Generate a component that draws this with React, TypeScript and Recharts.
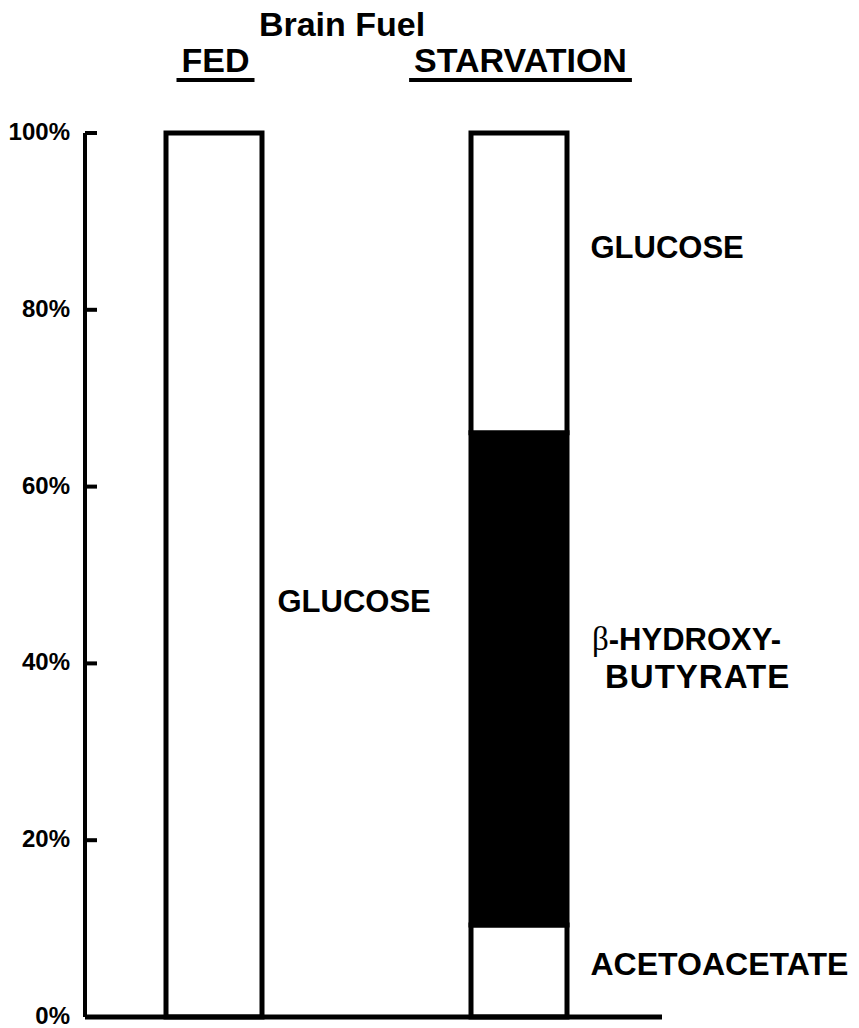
import { Bar, BarChart, XAxis, YAxis } from "recharts";

const categories = ["FED", "STARVATION"];
const acetoacetate = [0, 10.4];
const hydroxybutyrate = [0, 55.7];
const glucose = [100, 33.9];
const yTicks = [0, 20, 40, 60, 80, 100];

const data = categories.map((name, i) => ({
  name,
  acetoacetate: acetoacetate[i],
  hydroxybutyrate: hydroxybutyrate[i],
  glucose: glucose[i],
}));

const FONT = "'Liberation Sans', Arial, Helvetica, sans-serif";

let ctx: CanvasRenderingContext2D | null = null;
function textWidth(s: string, size: number) {
  if (!ctx) ctx = document.createElement("canvas").getContext("2d");
  if (!ctx) return s.length * size * 0.65;
  ctx.font = `bold ${size}px ${FONT}`;
  return ctx.measureText(s).width;
}

function YTick({ x, y, payload }: any) {
  return (
    <g>
      <text x={x} y={y} dy={7} textAnchor="end" fontFamily={FONT} fontSize={24} fontWeight="bold" fill="#000">
        {payload.value}%
      </text>
      <line x1={x + 15} x2={x + 27} y1={y} y2={y} stroke="#000" strokeWidth={4} />
    </g>
  );
}

function TopTick({ x, y, payload }: any) {
  const w = textWidth(payload.value, 34) + 10;
  return (
    <g>
      <text x={x + 2} y={y - 61} textAnchor="middle" fontFamily={FONT} fontSize={34} fontWeight="bold" fill="#000">
        {payload.value}
      </text>
      <line x1={x - w / 2 + 2} x2={x + w / 2 + 2} y1={y - 53} y2={y - 53} stroke="#000" strokeWidth={4} />
    </g>
  );
}

const labelStyle = { fontFamily: FONT, fontSize: 31, fontWeight: "bold" as const, fill: "#000" };

function GlucoseLabel({ x, y, width, height, index }: any) {
  if (!height) return null;
  const first = index === 0;
  return (
    <text x={x + width + (first ? 15.5 : 23.5)} y={y + height / 2 + (first ? 37 : -25)} {...labelStyle}>
      GLUCOSE
    </text>
  );
}

function HydroxyLabel({ x, y, width, height }: any) {
  if (!height) return null;
  const cy = y + height / 2;
  return (
    <g>
      <text x={x + width + 25} y={cy - 29} {...labelStyle}>
        <tspan fontFamily="'Liberation Serif', 'DejaVu Serif', serif" fontWeight="normal" fontSize={33}>β</tspan>-HYDROXY-
      </text>
      <text x={x + width + 38} y={cy + 9} {...labelStyle} fontSize={33} letterSpacing={1}>
        BUTYRATE
      </text>
    </g>
  );
}

function AcetoLabel({ x, y, width, height }: any) {
  if (!height) return null;
  return (
    <text x={x + width + 23.5} y={y + height / 2 + 4} {...labelStyle} fontSize={32}>
      ACETOACETATE
    </text>
  );
}

export default function App() {
  return (
    <div style={{ position: "absolute", left: 0, top: 0, width: 859, height: 1028, background: "#fff" }}>
      <BarChart width={859} height={1028} data={data} margin={{ top: 0, right: 197, bottom: 0, left: 0 }}>
        <text x={342} y={36} textAnchor="middle" fontFamily={FONT} fontSize={34} fontWeight="bold" fill="#000">
          Brain Fuel
        </text>
        <XAxis
          dataKey="name"
          height={11}
          padding={{ left: -24, right: -9 }}
          tick={false}
          tickLine={false}
          axisLine={{ stroke: "#000", strokeWidth: 5 }}
        />
        <XAxis
          xAxisId="top"
          orientation="top"
          dataKey="name"
          height={133}
          padding={{ left: -24, right: -9 }}
          tickSize={0}
          tickMargin={0}
          tickLine={false}
          axisLine={false}
          tick={<TopTick />}
        />
        <YAxis
          width={85}
          domain={[0, 100]}
          ticks={yTicks}
          tickSize={0}
          tickMargin={15}
          tickLine={false}
          axisLine={{ stroke: "#000", strokeWidth: 4 }}
          tick={<YTick />}
        />
        <Bar dataKey="acetoacetate" stackId="a" barSize={96} fill="#fff" stroke="#000" strokeWidth={5} isAnimationActive={false} label={<AcetoLabel />} />
        <Bar dataKey="hydroxybutyrate" stackId="a" barSize={96} fill="#000" stroke="#000" strokeWidth={5} isAnimationActive={false} label={<HydroxyLabel />} />
        <Bar dataKey="glucose" stackId="a" barSize={96} fill="#fff" stroke="#000" strokeWidth={5} isAnimationActive={false} label={<GlucoseLabel />} />
      </BarChart>
    </div>
  );
}
